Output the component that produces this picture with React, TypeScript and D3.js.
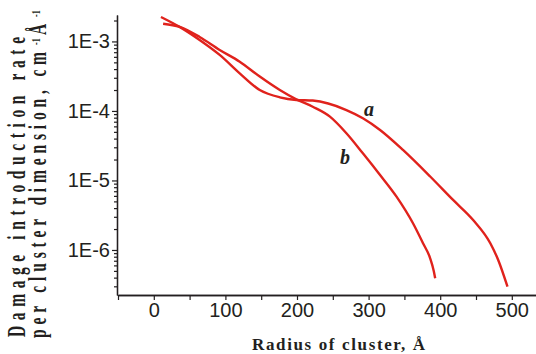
import React, { useRef, useEffect } from "react"
import * as d3 from "d3"

// Radius of cluster, Å
const radiusA = [10, 36, 64, 92, 120, 148, 176, 199, 222, 269, 292, 316, 348, 386, 418, 446, 470, 481, 494]
const rateA = [2.25e-3, 1.62e-3, 1.05e-3, 6.4e-4, 3.48e-4, 2.0e-4, 1.57e-4, 1.44e-4, 1.41e-4, 1.03e-4, 7.85e-5, 5.33e-5, 2.75e-5, 1.14e-5, 5.24e-6, 2.7e-6, 1.25e-6, 7.18e-7, 2.96e-7]

const radiusB = [13, 36, 64, 92, 120, 148, 176, 199, 222, 246, 269, 292, 316, 339, 362, 376, 386, 391, 393]
const rateB = [1.8e-3, 1.62e-3, 1.16e-3, 7.55e-4, 5.12e-4, 3.12e-4, 2.0e-4, 1.47e-4, 1.15e-4, 8.28e-5, 4.78e-5, 2.46e-5, 1.2e-5, 5.85e-6, 2.42e-6, 1.25e-6, 7.6e-7, 5.0e-7, 3.92e-7]

const xMajor = [0, 100, 200, 300, 400, 500]
const xMinor = [-50, 50, 150, 250, 350, 450]
const yMajor = [1e-3, 1e-4, 1e-5, 1e-6]

const W = 536
const H = 354
const RED = "#e0221c"
const INK = "#231f20"
const SANS = "Liberation Sans, Arial, sans-serif"
const SERIF = "Liberation Serif, Times New Roman, serif"

type Pt = { r: number; v: number }

export default function App() {
  const svgRef = useRef<SVGSVGElement>(null)

  useEffect(() => {
    document.body.style.margin = "0"
    const svg = svgRef.current
    if (!svg) return
    d3.select(svg).selectAll("*").remove()
    const root = d3.select(svg)

    const x = d3.scaleLinear().domain([-50, 550]).range([118, 547.6])
    const y = d3.scaleLog().domain([2.25e-7, 2.4e-3]).range([295, 15])

    // minor log ticks
    const yMinor: number[] = []
    for (let e = -7; e <= -3; e++) {
      for (let k = 2; k <= 9; k++) {
        const v = k * Math.pow(10, e)
        if (v >= 2.25e-7 && v <= 2.4e-3) yMinor.push(v)
      }
    }

    const styleAxis = (g: any) => {
      g.selectAll("line").attr("stroke", INK).attr("stroke-width", 1.2)
      g.selectAll("path").attr("stroke", INK).attr("stroke-width", 1.3)
      g.selectAll("text").attr("fill", INK).attr("font-size", 20).attr("font-family", SANS)
    }

    // Y axis
    root.append("g")
      .attr("transform", "translate(117,0)")
      .call(d3.axisLeft(y).tickValues(yMinor).tickSize(3).tickSizeOuter(0).tickFormat(() => ""))
      .call(styleAxis)
    root.append("g")
      .attr("transform", "translate(117,0)")
      .call(
        d3.axisLeft(y)
          .tickValues(yMajor)
          .tickSize(5)
          .tickSizeOuter(0)
          .tickPadding(2)
          .tickFormat((d) => `1E${Math.round(Math.log10(d as number))}`)
      )
      .call(styleAxis)

    // X axis
    root.append("g")
      .attr("transform", "translate(0,295)")
      .call(d3.axisBottom(x).tickValues(xMinor).tickSize(5).tickSizeOuter(0).tickFormat(() => ""))
      .call(styleAxis)
    root.append("g")
      .attr("transform", "translate(0,295)")
      .call(d3.axisBottom(x).tickValues(xMajor).tickSize(5).tickSizeOuter(0).tickPadding(3))
      .call(styleAxis)

    const line = d3
      .line<Pt>()
      .x((d) => x(d.r))
      .y((d) => y(d.v))
      .curve(d3.curveMonotoneX)

    const seriesA: Pt[] = radiusA.map((r, i) => ({ r, v: rateA[i] }))
    const seriesB: Pt[] = radiusB.map((r, i) => ({ r, v: rateB[i] }))

    for (const s of [seriesA, seriesB]) {
      root.append("path")
        .datum(s)
        .attr("fill", "none")
        .attr("stroke", RED)
        .attr("stroke-width", 2.4)
        .attr("d", line)
    }

    // curve labels
    const tag = (t: string, px: number, py: number) =>
      root.append("text")
        .attr("x", px).attr("y", py)
        .attr("text-anchor", "middle")
        .attr("font-family", SERIF).attr("font-style", "italic").attr("font-weight", "bold")
        .attr("font-size", 20).attr("fill", INK)
        .text(t)
    tag("a", 369, 116)
    tag("b", 345, 164)

    // X title
    root.append("text")
      .attr("x", 252).attr("y", 350)
      .attr("font-family", SERIF).attr("font-weight", "bold").attr("font-size", 17)
      .attr("fill", INK)
      .attr("textLength", 173).attr("lengthAdjust", "spacing")
      .text("Radius of cluster, Å")

    // Y title: condensed bold serif, two rotated lines
    const sx = 0.62
    const yt = root.append("g").attr("transform", `rotate(-90) scale(${sx},1)`)
    const title = (t: string, from: number, base: number, size: number, len?: number) => {
      const el = yt.append("text")
        .attr("x", -from / sx).attr("y", base)
        .attr("font-family", SERIF).attr("font-weight", "bold")
        .attr("font-size", size).attr("fill", INK)
        .text(t)
      if (len) el.attr("textLength", len / sx).attr("lengthAdjust", "spacing")
      return el
    }
    title("Damage introduction rate", 337, 25, 25, 300)
    title("per cluster dimension, cm", 338, 46, 25, 286)
    title("-1", 45, 40, 13)
    title("Å", 35, 46, 25)
    title("-1", 17, 40, 13)
  }, [])

  return <svg ref={svgRef} width={W} height={H} style={{ display: "block", background: "#fff" }} />
}
